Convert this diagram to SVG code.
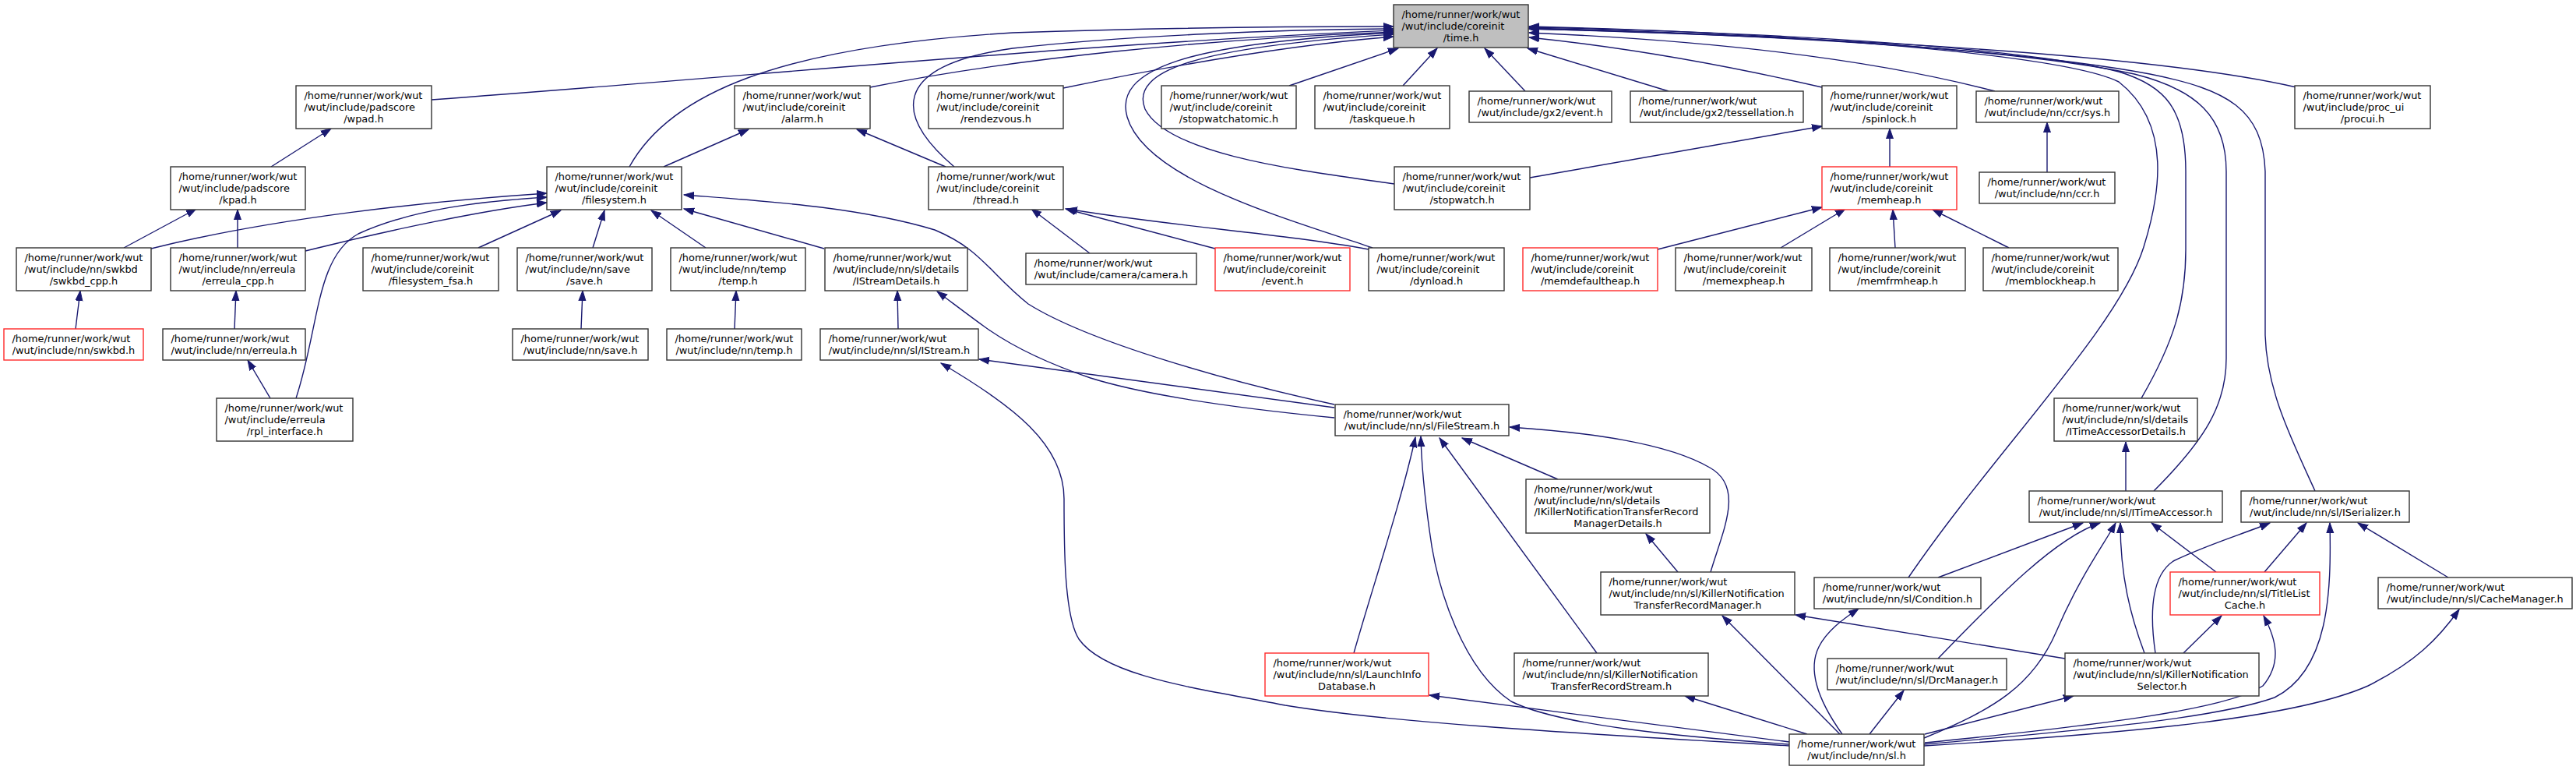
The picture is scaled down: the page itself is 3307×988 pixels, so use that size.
<svg xmlns="http://www.w3.org/2000/svg" width="3307" height="988" viewBox="0 0 3307 988">
<style>
.n rect{fill:#fff;stroke:#333;stroke-width:1.4}
.n.r rect{stroke:#ff2a2a}
.n.g rect{fill:#bfbfbf}
text{font-family:"DejaVu Sans","Liberation Sans",sans-serif;font-size:12.9px;fill:#000}
.c{text-anchor:middle}
.e path{fill:none;stroke:#191970;stroke-width:1.4;marker-end:url(#a)}
</style>
<defs>
<marker id="a" markerUnits="userSpaceOnUse" markerWidth="14" markerHeight="11" refX="13" refY="5.5" orient="auto"><path d="M0,1 L13,5.5 L0,10 z" fill="#191970" stroke="#191970" stroke-width="1"/></marker>
</defs>
<rect width="3307" height="988" fill="#fff"/>
<g id="edges" class="e">
<path d="M554,128 C1000,95 1400,55 1789,39"/>
<path d="M808,214 C860,120 1000,60 1300,42 C1500,35 1650,34 1789,34"/>
<path d="M1117,112 C1300,75 1550,50 1789,41"/>
<path d="M1225,214 C1150,150 1140,85 1300,62 C1450,45 1650,38 1789,37"/>
<path d="M1365,113 C1500,85 1650,58 1789,47"/>
<path d="M1762,318 C1650,280 1470,230 1447,150 C1430,90 1520,55 1789,42"/>
<path d="M1790,236 C1680,220 1500,200 1470,140 C1450,90 1540,60 1789,44"/>
<path d="M1655,110 L1795,62"/>
<path d="M1801,110 L1845,62"/>
<path d="M1958,117 L1906,62"/>
<path d="M2142,117 L1961,62"/>
<path d="M2339,112 C2200,80 2080,60 1963,48"/>
<path d="M2561,117 C2400,75 2200,52 1963,42"/>
<path d="M2948,112 C2800,78 2500,52 1963,37"/>
<path d="M2450,741 C2560,580 2720,420 2752,317 C2772,253 2790,160 2720,105 C2650,70 2300,42 1963,34"/>
<path d="M2749,511 C2790,440 2806,390 2806,320 L2806,220 C2806,140 2780,110 2720,92 C2600,62 2300,42 1963,35"/>
<path d="M2765,630 C2830,565 2858,520 2858,460 L2858,220 C2858,150 2820,115 2740,95 C2600,65 2300,44 1963,36"/>
<path d="M2972,630 C2940,560 2910,500 2908,430 L2908,220 C2905,140 2860,115 2760,95 C2600,65 2300,45 1963,37"/>
<path d="M348,214 L425,165"/>
<path d="M852,214 L961,166"/>
<path d="M1214,214 L1100,166"/>
<path d="M2426,214 L2426,165"/>
<path d="M1964,228 L2339,162"/>
<path d="M2628,221 L2628,157"/>
<path d="M159,318 L252,268"/>
<path d="M305,318 L305,269"/>
<path d="M194,319 C350,280 550,258 702,248"/>
<path d="M392,322 C500,295 620,270 702,260"/>
<path d="M380,511 C410,420 405,330 460,300 C530,268 620,258 702,253"/>
<path d="M614,318 L720,270"/>
<path d="M761,318 L776,270"/>
<path d="M906,318 L836,270"/>
<path d="M1058,319 L878,268"/>
<path d="M1713,519 C1580,490 1400,440 1320,390 C1270,350 1260,320 1200,295 C1100,265 980,258 878,250"/>
<path d="M1399,325 L1324,268"/>
<path d="M1560,319 L1368,268"/>
<path d="M1757,320 C1650,300 1500,290 1370,268"/>
<path d="M2128,320 L2339,266"/>
<path d="M2286,318 L2369,268"/>
<path d="M2433,318 L2430,269"/>
<path d="M2579,318 L2481,269"/>
<path d="M97,422 L103,373"/>
<path d="M301,422 L303,373"/>
<path d="M746,422 L748,373"/>
<path d="M943,422 L945,373"/>
<path d="M1153,422 L1152,373"/>
<path d="M347,511 L318,462"/>
<path d="M1713,523 L1257,461"/>
<path d="M1713,536 C1600,525 1480,510 1400,485 C1350,468 1300,445 1265,420 C1240,402 1222,388 1203,374"/>
<path d="M2297,957 C2100,945 1800,930 1650,905 C1550,885 1420,870 1385,820 C1366,790 1366,700 1366,640 C1366,570 1300,520 1208,466"/>
<path d="M2297,955 C2150,945 2000,930 1940,900 C1880,860 1845,760 1835,680 C1828,630 1825,600 1824,560"/>
<path d="M1738,838 C1760,760 1800,640 1817,561"/>
<path d="M2050,838 L1848,562"/>
<path d="M2000,615 L1877,562"/>
<path d="M2196,734 C2212,680 2240,625 2195,600 C2140,568 2040,555 1938,548"/>
<path d="M2154,734 L2113,685"/>
<path d="M2651,845 L2305,789"/>
<path d="M2362,942 L2211,790"/>
<path d="M2320,942 L2163,893"/>
<path d="M2297,952 L1835,892"/>
<path d="M2365,942 C2335,900 2320,860 2335,830 C2345,810 2365,795 2386,781"/>
<path d="M2400,942 L2444,886"/>
<path d="M2470,947 C2560,910 2610,880 2640,810 C2670,740 2700,700 2716,671"/>
<path d="M2488,741 L2674,671"/>
<path d="M2488,845 C2570,760 2640,690 2696,671"/>
<path d="M2753,838 C2735,790 2722,740 2722,671"/>
<path d="M2845,734 L2762,671"/>
<path d="M2767,838 C2760,790 2760,740 2790,720 C2830,700 2880,685 2914,671"/>
<path d="M2907,734 L2961,671"/>
<path d="M2470,955 C2700,935 2850,920 2920,895 C2990,860 2993,760 2991,671"/>
<path d="M3143,741 L3027,671"/>
<path d="M2470,957 C2750,940 2950,920 3040,880 C3100,850 3130,820 3157,782"/>
<path d="M2471,953 C2700,930 2860,910 2905,880 C2930,850 2922,820 2906,790"/>
<path d="M2803,838 L2852,790"/>
<path d="M2471,942 L2662,893"/>
<path d="M2729,630 L2729,567"/>
</g>
<g id="time" class="n g"><rect x="1789" y="6" width="173" height="55"/><text x="1799.5" y="23.2">/home/runner/work/wut</text><text x="1799.5" y="37.9">/wut/include/coreinit</text><text class="c" x="1875.5" y="52.6">/time.h</text></g>
<g id="wpad" class="n"><rect x="380" y="110" width="174" height="55"/><text x="390.5" y="127.2">/home/runner/work/wut</text><text x="390.5" y="141.9">/wut/include/padscore</text><text class="c" x="467" y="156.6">/wpad.h</text></g>
<g id="alarm" class="n"><rect x="943" y="110" width="174" height="55"/><text x="953.5" y="127.2">/home/runner/work/wut</text><text x="953.5" y="141.9">/wut/include/coreinit</text><text class="c" x="1030" y="156.6">/alarm.h</text></g>
<g id="rendezvous" class="n"><rect x="1192" y="110" width="173" height="55"/><text x="1202.5" y="127.2">/home/runner/work/wut</text><text x="1202.5" y="141.9">/wut/include/coreinit</text><text class="c" x="1278.5" y="156.6">/rendezvous.h</text></g>
<g id="stopwatchatomic" class="n"><rect x="1491" y="110" width="173" height="55"/><text x="1501.5" y="127.2">/home/runner/work/wut</text><text x="1501.5" y="141.9">/wut/include/coreinit</text><text class="c" x="1577.5" y="156.6">/stopwatchatomic.h</text></g>
<g id="taskqueue" class="n"><rect x="1688" y="110" width="173" height="55"/><text x="1698.5" y="127.2">/home/runner/work/wut</text><text x="1698.5" y="141.9">/wut/include/coreinit</text><text class="c" x="1774.5" y="156.6">/taskqueue.h</text></g>
<g id="gx2event" class="n"><rect x="1886" y="117" width="183" height="40"/><text x="1896.5" y="134.1">/home/runner/work/wut</text><text class="c" x="1977.5" y="148.8">/wut/include/gx2/event.h</text></g>
<g id="tessellation" class="n"><rect x="2093" y="117" width="222" height="40"/><text x="2103.5" y="134.1">/home/runner/work/wut</text><text class="c" x="2204" y="148.8">/wut/include/gx2/tessellation.h</text></g>
<g id="spinlock" class="n"><rect x="2339" y="110" width="173" height="55"/><text x="2349.5" y="127.2">/home/runner/work/wut</text><text x="2349.5" y="141.9">/wut/include/coreinit</text><text class="c" x="2425.5" y="156.6">/spinlock.h</text></g>
<g id="ccrsys" class="n"><rect x="2537" y="117" width="183" height="40"/><text x="2547.5" y="134.1">/home/runner/work/wut</text><text class="c" x="2628.5" y="148.8">/wut/include/nn/ccr/sys.h</text></g>
<g id="procui" class="n"><rect x="2946" y="110" width="174" height="55"/><text x="2956.5" y="127.2">/home/runner/work/wut</text><text x="2956.5" y="141.9">/wut/include/proc_ui</text><text class="c" x="3033" y="156.6">/procui.h</text></g>
<g id="kpad" class="n"><rect x="219" y="214" width="173" height="55"/><text x="229.5" y="231.2">/home/runner/work/wut</text><text x="229.5" y="245.9">/wut/include/padscore</text><text class="c" x="305.5" y="260.6">/kpad.h</text></g>
<g id="filesystem" class="n"><rect x="702" y="214" width="173" height="55"/><text x="712.5" y="231.2">/home/runner/work/wut</text><text x="712.5" y="245.9">/wut/include/coreinit</text><text class="c" x="788.5" y="260.6">/filesystem.h</text></g>
<g id="thread" class="n"><rect x="1192" y="214" width="173" height="55"/><text x="1202.5" y="231.2">/home/runner/work/wut</text><text x="1202.5" y="245.9">/wut/include/coreinit</text><text class="c" x="1278.5" y="260.6">/thread.h</text></g>
<g id="stopwatch" class="n"><rect x="1790" y="214" width="174" height="55"/><text x="1800.5" y="231.2">/home/runner/work/wut</text><text x="1800.5" y="245.9">/wut/include/coreinit</text><text class="c" x="1877" y="260.6">/stopwatch.h</text></g>
<g id="memheap" class="n r"><rect x="2339" y="214" width="173" height="55"/><text x="2349.5" y="231.2">/home/runner/work/wut</text><text x="2349.5" y="245.9">/wut/include/coreinit</text><text class="c" x="2425.5" y="260.6">/memheap.h</text></g>
<g id="ccr" class="n"><rect x="2541" y="221" width="174" height="40"/><text x="2551.5" y="238.1">/home/runner/work/wut</text><text class="c" x="2628" y="252.8">/wut/include/nn/ccr.h</text></g>
<g id="swkbd_cpp" class="n"><rect x="21" y="318" width="173" height="55"/><text x="31.5" y="335.2">/home/runner/work/wut</text><text x="31.5" y="349.9">/wut/include/nn/swkbd</text><text class="c" x="107.5" y="364.6">/swkbd_cpp.h</text></g>
<g id="erreula_cpp" class="n"><rect x="219" y="318" width="173" height="55"/><text x="229.5" y="335.2">/home/runner/work/wut</text><text x="229.5" y="349.9">/wut/include/nn/erreula</text><text class="c" x="305.5" y="364.6">/erreula_cpp.h</text></g>
<g id="filesystem_fsa" class="n"><rect x="466" y="318" width="174" height="55"/><text x="476.5" y="335.2">/home/runner/work/wut</text><text x="476.5" y="349.9">/wut/include/coreinit</text><text class="c" x="553" y="364.6">/filesystem_fsa.h</text></g>
<g id="save_save" class="n"><rect x="664" y="318" width="173" height="55"/><text x="674.5" y="335.2">/home/runner/work/wut</text><text x="674.5" y="349.9">/wut/include/nn/save</text><text class="c" x="750.5" y="364.6">/save.h</text></g>
<g id="temp_temp" class="n"><rect x="861" y="318" width="173" height="55"/><text x="871.5" y="335.2">/home/runner/work/wut</text><text x="871.5" y="349.9">/wut/include/nn/temp</text><text class="c" x="947.5" y="364.6">/temp.h</text></g>
<g id="istreamdetails" class="n"><rect x="1059" y="318" width="183" height="55"/><text x="1069.5" y="335.2">/home/runner/work/wut</text><text x="1069.5" y="349.9">/wut/include/nn/sl/details</text><text class="c" x="1150.5" y="364.6">/IStreamDetails.h</text></g>
<g id="camera" class="n"><rect x="1317" y="325" width="219" height="40"/><text x="1327.5" y="342.1">/home/runner/work/wut</text><text class="c" x="1426.5" y="356.8">/wut/include/camera/camera.h</text></g>
<g id="event" class="n r"><rect x="1560" y="318" width="173" height="55"/><text x="1570.5" y="335.2">/home/runner/work/wut</text><text x="1570.5" y="349.9">/wut/include/coreinit</text><text class="c" x="1646.5" y="364.6">/event.h</text></g>
<g id="dynload" class="n"><rect x="1757" y="318" width="174" height="55"/><text x="1767.5" y="335.2">/home/runner/work/wut</text><text x="1767.5" y="349.9">/wut/include/coreinit</text><text class="c" x="1844" y="364.6">/dynload.h</text></g>
<g id="memdefaultheap" class="n r"><rect x="1955" y="318" width="173" height="55"/><text x="1965.5" y="335.2">/home/runner/work/wut</text><text x="1965.5" y="349.9">/wut/include/coreinit</text><text class="c" x="2041.5" y="364.6">/memdefaultheap.h</text></g>
<g id="memexpheap" class="n"><rect x="2151" y="318" width="175" height="55"/><text x="2161.5" y="335.2">/home/runner/work/wut</text><text x="2161.5" y="349.9">/wut/include/coreinit</text><text class="c" x="2238.5" y="364.6">/memexpheap.h</text></g>
<g id="memfrmheap" class="n"><rect x="2349" y="318" width="174" height="55"/><text x="2359.5" y="335.2">/home/runner/work/wut</text><text x="2359.5" y="349.9">/wut/include/coreinit</text><text class="c" x="2436" y="364.6">/memfrmheap.h</text></g>
<g id="memblockheap" class="n"><rect x="2546" y="318" width="173" height="55"/><text x="2556.5" y="335.2">/home/runner/work/wut</text><text x="2556.5" y="349.9">/wut/include/coreinit</text><text class="c" x="2632.5" y="364.6">/memblockheap.h</text></g>
<g id="swkbd" class="n r"><rect x="5" y="422" width="179" height="40"/><text x="15.5" y="439.1">/home/runner/work/wut</text><text class="c" x="94.5" y="453.8">/wut/include/nn/swkbd.h</text></g>
<g id="erreula" class="n"><rect x="209" y="422" width="183" height="40"/><text x="219.5" y="439.1">/home/runner/work/wut</text><text class="c" x="300.5" y="453.8">/wut/include/nn/erreula.h</text></g>
<g id="nnsave" class="n"><rect x="658" y="422" width="174" height="40"/><text x="668.5" y="439.1">/home/runner/work/wut</text><text class="c" x="745" y="453.8">/wut/include/nn/save.h</text></g>
<g id="nntemp" class="n"><rect x="856" y="422" width="173" height="40"/><text x="866.5" y="439.1">/home/runner/work/wut</text><text class="c" x="942.5" y="453.8">/wut/include/nn/temp.h</text></g>
<g id="istream" class="n"><rect x="1053" y="422" width="203" height="40"/><text x="1063.5" y="439.1">/home/runner/work/wut</text><text class="c" x="1154.5" y="453.8">/wut/include/nn/sl/IStream.h</text></g>
<g id="rpl_interface" class="n"><rect x="278" y="511" width="175" height="55"/><text x="288.5" y="528.2">/home/runner/work/wut</text><text x="288.5" y="542.9">/wut/include/erreula</text><text class="c" x="365.5" y="557.6">/rpl_interface.h</text></g>
<g id="filestream" class="n"><rect x="1714" y="519" width="223" height="40"/><text x="1724.5" y="536.1">/home/runner/work/wut</text><text class="c" x="1825.5" y="550.8">/wut/include/nn/sl/FileStream.h</text></g>
<g id="itimeaccessordetails" class="n"><rect x="2637" y="511" width="184" height="55"/><text x="2647.5" y="528.2">/home/runner/work/wut</text><text x="2647.5" y="542.9">/wut/include/nn/sl/details</text><text class="c" x="2729" y="557.6">/ITimeAccessorDetails.h</text></g>
<g id="ikntrmdetails" class="n"><rect x="1959" y="615" width="236" height="69"/><text x="1969.5" y="631.9">/home/runner/work/wut</text><text x="1969.5" y="646.6">/wut/include/nn/sl/details</text><text x="1969.5" y="661.3">/IKillerNotificationTransferRecord</text><text class="c" x="2077" y="676">ManagerDetails.h</text></g>
<g id="itimeaccessor" class="n"><rect x="2605" y="630" width="248" height="40"/><text x="2615.5" y="647.1">/home/runner/work/wut</text><text class="c" x="2729" y="661.8">/wut/include/nn/sl/ITimeAccessor.h</text></g>
<g id="iserializer" class="n"><rect x="2877" y="630" width="216" height="40"/><text x="2887.5" y="647.1">/home/runner/work/wut</text><text class="c" x="2985" y="661.8">/wut/include/nn/sl/ISerializer.h</text></g>
<g id="kntrmanager" class="n"><rect x="2055" y="734" width="249" height="55"/><text x="2065.5" y="751.2">/home/runner/work/wut</text><text x="2065.5" y="765.9">/wut/include/nn/sl/KillerNotification</text><text class="c" x="2179.5" y="780.6">TransferRecordManager.h</text></g>
<g id="condition" class="n"><rect x="2329" y="741" width="214" height="40"/><text x="2339.5" y="758.1">/home/runner/work/wut</text><text class="c" x="2436" y="772.8">/wut/include/nn/sl/Condition.h</text></g>
<g id="titlelistcache" class="n r"><rect x="2786" y="734" width="192" height="55"/><text x="2796.5" y="751.2">/home/runner/work/wut</text><text x="2796.5" y="765.9">/wut/include/nn/sl/TitleList</text><text class="c" x="2882" y="780.6">Cache.h</text></g>
<g id="cachemanager" class="n"><rect x="3053" y="741" width="249" height="40"/><text x="3063.5" y="758.1">/home/runner/work/wut</text><text class="c" x="3177.5" y="772.8">/wut/include/nn/sl/CacheManager.h</text></g>
<g id="launchinfodatabase" class="n r"><rect x="1624" y="838" width="210" height="55"/><text x="1634.5" y="855.2">/home/runner/work/wut</text><text x="1634.5" y="869.9">/wut/include/nn/sl/LaunchInfo</text><text class="c" x="1729" y="884.6">Database.h</text></g>
<g id="kntrstream" class="n"><rect x="1944" y="838" width="249" height="55"/><text x="1954.5" y="855.2">/home/runner/work/wut</text><text x="1954.5" y="869.9">/wut/include/nn/sl/KillerNotification</text><text class="c" x="2068.5" y="884.6">TransferRecordStream.h</text></g>
<g id="drcmanager" class="n"><rect x="2346" y="845" width="230" height="40"/><text x="2356.5" y="862.1">/home/runner/work/wut</text><text class="c" x="2461" y="876.8">/wut/include/nn/sl/DrcManager.h</text></g>
<g id="selector" class="n"><rect x="2651" y="838" width="249" height="55"/><text x="2661.5" y="855.2">/home/runner/work/wut</text><text x="2661.5" y="869.9">/wut/include/nn/sl/KillerNotification</text><text class="c" x="2775.5" y="884.6">Selector.h</text></g>
<g id="sl" class="n"><rect x="2297" y="942" width="173" height="40"/><text x="2307.5" y="959.1">/home/runner/work/wut</text><text class="c" x="2383.5" y="973.8">/wut/include/nn/sl.h</text></g>
</svg>
